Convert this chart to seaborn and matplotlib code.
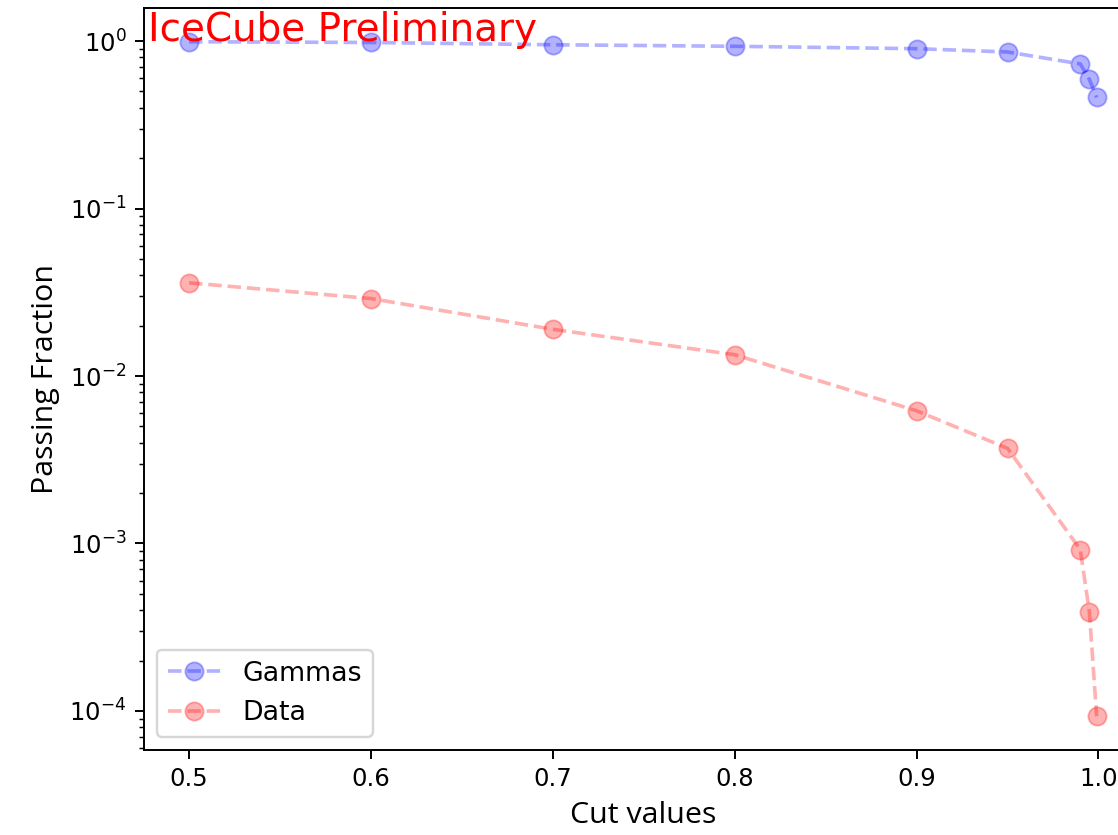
import matplotlib
matplotlib.use('Agg')
import matplotlib.pyplot as plt
import seaborn as sns
import pandas as pd

# cut values and passing fractions
cuts = [0.5, 0.6, 0.7, 0.8, 0.9, 0.95, 0.99, 0.995, 0.999]
gammas = [0.99, 0.98, 0.95, 0.93, 0.90, 0.86, 0.73, 0.59, 0.46]
data = [0.036, 0.029, 0.019, 0.0134, 0.0062, 0.0037, 0.00092, 0.00039, 0.000093]

df = pd.DataFrame({'cut': cuts, 'Gammas': gammas, 'Data': data})

fig = plt.figure(figsize=(1118 / 175, 835 / 175), dpi=175)
ax = fig.add_axes([0.1285, 0.1018, 0.893, 0.8886])

sns.lineplot(data=df, x='cut', y='Gammas', ax=ax, color='b', marker='o', linestyle='--',
             alpha=0.3, markersize=7.5, markeredgecolor='b', label='Gammas')
sns.lineplot(data=df, x='cut', y='Data', ax=ax, color='r', marker='o', linestyle='--',
             alpha=0.3, markersize=7.5, markeredgecolor='r', label='Data')

ax.set_yscale('log')
ax.text(0.4772, 1.0, 'IceCube Preliminary', color='red', fontsize=16)

lab_font = ['Open Sans', 'DejaVu Sans']
ax.set_xlabel('Cut values', family=lab_font, fontsize=12.5)
ax.set_ylabel('Passing Fraction', family=lab_font, fontsize=12.5)
ax.legend(loc='lower left', fontsize=11)

fig.savefig('out.png', dpi=175)
